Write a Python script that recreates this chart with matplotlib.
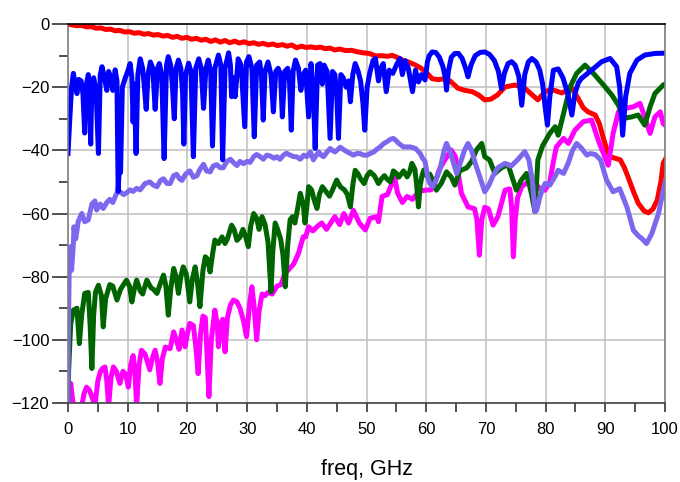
import matplotlib
matplotlib.use("Agg")
import matplotlib.pyplot as plt
from matplotlib.ticker import MultipleLocator

plt.rcParams['font.family'] = ['Liberation Sans', 'DejaVu Sans']

# S21 (red)
red_f = [0, 0.5, 1.5, 2.3, 3.1, 3.9, 4.7, 5.5, 6.3, 7.1, 7.9, 8.7, 9.5, 10.3, 11.1, 11.9,
         12.7, 13.5, 14.3, 15.1, 15.9, 16.7, 17.5, 18.3, 19.1, 19.9, 20.7, 21.5, 22.3, 23.1,
         23.9, 24.7, 25.5, 26.3, 27.1, 27.9, 28.7, 29.5, 30.3, 31.1, 31.9, 32.7, 33.5, 34.3,
         35.1, 35.9, 36.7, 37.5, 38.3, 39.1, 39.9, 40.7, 41.5, 42.3, 43.1, 43.9, 44.7, 45.5,
         46.5, 47.5, 48.5, 49.5, 50.5, 51.5, 52.5, 53.5, 54.3, 55.2, 56.0, 57.0, 58.0, 59.0,
         60.0, 61.0, 62.0, 63.0, 64.0, 65.3, 66.5, 67.7, 68.8, 69.8, 70.8, 71.9, 73.2, 74.9,
         76.5, 77.5, 78.7, 79.9, 81.0, 82.7, 84.4, 85.4, 86.3, 87.1, 88.3, 89.0, 89.6, 90.3,
         90.8, 92.5, 93.2, 93.8, 94.7, 95.5, 96.5, 97.2, 98.0, 98.7, 99.3, 99.7, 100]
red_db = [0, -0.2, -0.5, -0.4, -0.9, -0.8, -1.3, -1.2, -1.7, -1.6, -2.1, -2.0, -2.5, -2.4, -2.9, -2.7,
          -3.2, -3.0, -3.5, -3.3, -3.8, -3.6, -4.2, -3.9, -4.5, -4.2, -4.8, -4.5, -5.1, -4.8,
          -5.5, -5.0, -5.7, -5.2, -5.9, -5.4, -6.0, -5.6, -6.2, -5.9, -6.4, -6.1, -6.6, -6.3,
          -6.8, -6.5, -7.0, -6.6, -7.5, -7.0, -7.4, -7.2, -7.5, -7.3, -7.8, -7.6, -8.2, -7.9,
          -8.4, -8.3, -8.8, -9.1, -9.3, -10.1, -10.0, -10.2, -9.9, -10.6, -11.4, -12.0, -12.8, -13.8,
          -15.3, -17.3, -17.6, -17.3, -18.0, -20.3, -21.0, -21.4, -22.5, -24.0, -23.8, -22.5, -19.9, -19.3,
          -20.3, -22.0, -24.0, -21.4, -20.7, -21.8, -20.3, -23.4, -26.5, -27.8, -28.8, -31.5, -35.7, -40.0,
          -42.0, -43.0, -45.5, -48.4, -53.0, -56.7, -59.2, -59.8, -58.5, -55.7, -50.0, -44.0, -43.0]

# S11 (blue)
blue_f = [0.0, 0.3, 0.6, 0.9, 1.2, 1.5, 1.8, 2.2, 2.5, 2.8, 3.1, 3.4, 3.6, 3.8, 4.0, 4.3, 4.7, 5.1,
          5.4, 5.7, 6.1, 6.5, 6.8, 7.2, 7.5, 7.9, 8.2, 8.4, 8.6, 8.8, 9.1, 9.6, 10.0, 10.4, 10.7,
          10.9, 11.1, 11.4, 11.7, 12.1, 12.5, 12.8, 13.1, 13.4, 13.8, 14.2, 14.6, 15.0, 15.3, 15.7,
          16.1, 16.5, 16.8, 17.2, 17.5, 17.8, 18.1, 18.5, 18.9, 19.2, 19.4, 19.7, 20.2, 20.6, 21.0,
          21.4, 21.9, 22.3, 22.7, 23.1, 23.5, 23.9, 24.2, 24.6, 25.2, 25.6, 25.9, 26.3, 26.9, 27.2,
          27.4, 27.7, 28.0, 28.5, 29.0, 29.6, 29.9, 30.3, 30.8, 31.2, 31.6, 32.1, 32.4, 32.7, 33.0,
          33.5, 34.0, 34.4, 34.8, 35.2, 35.6, 35.9, 36.3, 36.8, 37.1, 37.4, 37.7, 38.1, 38.6, 39.0,
          39.4, 39.8, 40.3, 40.7, 41.1, 41.4, 41.8, 42.2, 42.6, 42.9, 43.4, 43.9, 44.3, 44.7, 45.0,
          45.3, 45.7, 46.1, 46.6, 47.0, 47.3, 47.7, 48.1, 48.6, 49.0, 49.4, 49.7, 50.1, 50.6, 51.1,
          51.5, 52.0, 52.4, 52.8, 53.3, 53.8, 54.4, 55.0, 55.6, 56.0, 56.5, 57.0, 57.7, 58.2, 58.7,
          59.2, 59.8, 60.2, 60.5, 61.0, 61.6, 62.2, 62.8, 63.2, 63.4, 63.7, 64.2, 64.8, 65.4, 66.0,
          66.6, 67.0, 67.5, 68.2, 69.0, 69.8, 70.6, 71.4, 72.1, 72.6, 73.1, 73.7, 74.3, 74.9, 75.5,
          76.0, 76.5, 77.1, 77.7, 78.4, 79.0, 79.5, 79.9, 80.3, 80.7, 81.3, 82.1, 82.9, 83.7, 84.4,
          84.9, 85.5, 86.0, 87.7, 89.4, 90.8, 91.9, 92.4, 92.9, 93.4, 94.1, 95.3, 96.6, 98.3, 100]
blue_db = [-41, -30, -20, -15.6, -19, -22, -17.5, -18, -22, -34.5, -19, -16, -20, -38, -19, -17, -21, -41,
           -16, -13.5, -17, -21, -15, -17, -21, -14.5, -18, -53, -45, -47, -20, -17, -15, -12.5, -17,
           -31, -19, -41, -16, -11, -14, -20, -27, -16, -12, -14, -27, -14, -12.5, -16,
           -42.6, -13, -10.3, -13, -20, -30, -14, -11.4, -14, -22, -38, -16, -12.4, -15, -42,
           -14, -11, -14, -26.7, -14, -11.4, -15, -38.6, -14, -9.8, -13, -43, -14, -9.1, -13,
           -23, -17, -23, -11, -13, -32.5, -12, -10.3, -14, -35.7, -13, -12, -16, -30.4, -15,
           -12, -16, -27.8, -15, -14, -16, -29.4, -15, -14, -18, -33.6, -15, -11.4, -14, -21,
           -16, -14.6, -29.4, -12.5, -22, -39.4, -13, -12.5, -19, -13, -15, -36.2, -15, -16, -22,
           -36.2, -16, -17, -20, -18, -24.6, -16, -12.5, -15, -18, -25, -33.6, -20, -15, -11.5,
           -10.9, -18, -14, -12.5, -21.4, -14.6, -15.6, -13, -10.9, -16, -11.6, -14, -21.4, -14.6, -18.3,
           -16, -17.7, -12, -10, -8.8, -9.0, -10.5, -13.5, -17, -20.9, -15, -10.5, -9.3, -9.3, -10.8,
           -14, -16.7, -13, -10, -9.0, -8.8, -9.6, -11.5, -15, -20.4, -15.5, -12.5, -11.9, -13, -16.5,
           -25.7, -16, -12, -10.9, -12, -14.5, -19, -26, -32, -23, -14.6, -14.2, -17, -22, -28.8,
           -22, -18.5, -17.2, -14.6, -11.9, -10.9, -13.5, -20, -35.2, -23, -15.6, -11.4, -9.8, -9.3, -9.2]

# purple
purple_f = [0.0, 0.05, 0.15, 0.2, 0.35, 0.45, 0.6, 0.8, 0.9, 1.0, 1.3, 1.7, 2.3, 2.8, 3.4, 4.0, 4.5,
            4.8, 5.4, 5.9, 6.5, 7.0, 7.5, 8.2, 8.7, 9.3, 9.8, 10.4, 10.9, 11.5, 12.1, 12.9, 13.7,
            14.3, 14.9, 15.5, 16.0, 16.6, 17.1, 17.7, 18.2, 18.7, 19.1, 19.7, 20.4, 21.0, 21.6, 22.1,
            22.7, 23.2, 23.8, 24.3, 24.9, 25.5, 26.0, 26.6, 27.2, 27.8, 28.3, 28.8, 29.4, 30.0, 30.5,
            31.1, 31.6, 32.2, 32.7, 33.3, 33.9, 34.5, 35.0, 35.5, 36.1, 36.6, 37.2, 37.8, 38.3, 38.9,
            39.5, 40.0, 40.6, 41.1, 41.6, 42.0, 42.4, 42.8, 43.4, 43.9, 44.3, 44.7, 45.2, 45.6, 46.2,
            46.7, 47.3, 47.8, 48.4, 48.9, 49.5, 50.1, 50.6, 51.2, 51.7, 52.3, 52.9, 53.4, 54.0, 54.5,
            55.0, 55.4, 56.2, 57.3, 58.2, 59.0, 59.4, 59.8, 60.2, 60.6, 61.1, 61.6, 62.3, 63.0, 63.4,
            64.0, 64.5, 65.1, 65.8, 66.4, 67.0, 67.6, 68.2, 69.0, 69.8, 70.5, 71.2, 72.0, 73.2, 74.2,
            75.3, 76.5, 77.2, 77.8, 78.2, 78.5, 79.0, 79.5, 79.9, 80.7, 81.5, 82.1, 83.0, 83.8, 84.5,
            85.2, 86.0, 86.9, 87.5, 88.3, 89.2, 90.2, 91.3, 92.4, 93.6, 94.7, 95.5, 96.1, 96.9, 97.8,
            98.9, 99.7, 100]
purple_db = [-120, -100, -85, -78, -72, -70.5, -78, -72, -69.5, -64.2, -68, -62.6, -60, -62.6, -62, -57, -56,
             -58.9, -57, -58.4, -56.5, -55.5, -56.5, -53.4, -53.1, -54, -53.5, -52.5, -53, -52, -52.5, -50.5, -50,
             -51, -51.5, -49.5, -49, -50.5, -50.5, -48, -47.6, -49, -49.5, -47.5, -46.5, -48.5, -48, -46,
             -44.4, -46.5, -46.8, -45, -44.5, -45.5, -45.5, -43.5, -42.8, -44, -44.8, -43.5, -44.2, -43.5, -43.8,
             -42, -41.3, -42, -42.8, -41.5, -41.8, -42.5, -42, -42.8, -41.5, -40.9, -41.5, -42, -42, -42.8,
             -41.5, -42, -40.5, -43, -41.5, -40.5, -41.5, -42, -40.5, -39.4, -40, -40.5, -39.7, -39, -39.8,
             -40.4, -41, -41.5, -41, -41, -41.5, -41.5, -41, -40.5, -39.7, -38.9, -37.8, -37.3, -36.5, -36.2,
             -37, -37.8, -38.9, -38.9, -39.4, -41, -42.5, -43.5, -48, -50.5, -51.5, -49.5, -46, -40, -37.8,
             -40.5, -43.5, -47.3, -43.5, -40, -37.8, -40, -44, -48.5, -53.1, -51, -48, -45.5, -44.1, -45,
             -43, -40.4, -43, -50, -59.4, -59, -55, -52, -50.5, -51, -48.5, -46.3, -47.3, -44, -40,
             -37.8, -39.3, -41.5, -41, -41.3, -43, -49.4, -53.1, -52.1, -57.9, -65.3, -67, -67.9, -69.5, -66.3,
             -60, -52.6, -50]

# dark green
green_f = [0.0, 0.1, 0.45, 0.9, 1.5, 1.9, 2.3, 2.8, 3.4, 3.7, 4.0, 4.3, 4.6, 5.1, 5.6, 5.9, 6.3, 7.0,
           7.5, 8.2, 8.8, 9.8, 10.3, 10.7, 11.1, 11.5, 12.1, 12.5, 13.2, 13.9, 14.3, 14.9, 15.5, 16.0,
           16.4, 16.8, 17.2, 17.7, 18.1, 18.5, 18.9, 19.3, 19.8, 20.4, 20.8, 21.3, 21.7, 22.1, 22.6,
           23.0, 23.4, 23.8, 24.2, 24.6, 25.2, 25.8, 26.3, 26.7, 27.4, 27.8, 28.3, 28.8, 29.3, 29.7,
           30.2, 30.6, 31.1, 31.6, 32.0, 32.5, 33.0, 33.5, 34.0, 34.3, 34.7, 35.1, 35.6, 36.0, 36.4,
           36.8, 37.2, 37.6, 38.0, 38.5, 38.9, 39.4, 39.7, 40.0, 40.3, 40.8, 41.2, 41.7, 42.1, 42.6,
           43.2, 43.8, 44.2, 45.0, 45.6, 46.3, 46.8, 47.3, 47.7, 48.1, 48.6, 49.0, 49.6, 50.1, 50.6,
           51.3, 52.0, 52.5, 53.0, 53.4, 54.0, 54.5, 55.0, 55.4, 56.0, 56.2, 56.8, 57.2, 57.6, 58.1,
           58.4, 58.7, 59.0, 59.3, 59.6, 60.2, 60.6, 61.2, 61.7, 62.5, 63.4, 64.2, 64.8, 65.6, 66.8,
           67.6, 68.4, 69.3, 69.8, 70.6, 71.5, 72.6, 73.7, 74.3, 75.1, 75.9, 76.8, 77.6, 78.2, 78.7,
           79.5, 80.7, 81.6, 82.1, 83.0, 84.1, 85.2, 86.6, 88.0, 89.7, 91.1, 92.2, 93.0, 94.4, 95.5,
           96.6, 97.5, 98.3, 99.7, 100]
green_db = [-120, -110, -95, -90.6, -90, -101.2, -92, -85.3, -85, -95, -109.1, -92, -85, -82.7, -86, -95.9, -87, -82.5,
            -83, -87.4, -84, -81.1, -83, -88, -84, -81.1, -84.5, -85.5, -81.1, -83.5, -84, -85.3, -82, -79.5,
            -83, -92.2, -84, -77.4, -80, -85.3, -80, -76.9, -79, -88, -81, -76.9, -82, -89.5, -78,
            -73.7, -74.5, -78.5, -73, -68.4, -69.5, -67.4, -69.5, -68, -63.7, -65, -68.5, -67.5, -65, -67,
            -70.5, -64, -60, -61.5, -65, -61, -63.5, -69, -84.8, -72, -63, -65, -68, -73, -83.2,
            -70, -62, -61, -63, -58, -53.6, -57, -63, -58, -51.5, -52.5, -55.5, -58.4, -54, -51.5,
            -53, -54.5, -53, -49.4, -51.5, -52.5, -54, -57.9, -51, -46.3, -47.5, -49, -50.5, -48, -46.8,
            -48, -50.5, -49, -48, -49, -50, -46.5, -47.3, -48.5, -47, -46.5, -48.4, -47, -44.1, -46,
            -51, -57.9, -51, -48, -46.2, -48.4, -47.5, -50, -52.6, -50.5, -46.8, -48.5, -51, -46.5, -45.5,
            -43.5, -39.9, -37.8, -42, -43, -47.3, -45.5, -44.5, -48, -52.6, -49.5, -47.3, -53.5, -59.4, -43,
            -38.5, -34.6, -32.5, -35.2, -28.3, -19.9, -15.6, -13, -15.6, -19.3, -22.5, -25.7, -29.9, -29.4, -28.8,
            -32, -26.2, -22, -19.3, -19]

# magenta
mag_f = [0.3, 0.45, 0.7, 1.0, 1.5, 2.3, 2.7, 3.1, 3.6, 4.0, 4.5, 5.0, 5.4, 5.8, 6.2, 6.5, 6.8, 7.2, 7.6,
         8.1, 8.7, 9.2, 9.7, 10.1, 10.5, 10.9, 11.2, 11.5, 11.9, 12.3, 12.9, 13.7, 14.1, 14.6, 15.0,
         15.4, 15.8, 16.3, 17.1, 17.7, 18.3, 18.6, 19.1, 19.6, 20.0, 20.4, 21.0, 21.4, 21.8, 22.2,
         22.6, 23.0, 23.3, 23.6, 24.0, 24.6, 25.0, 25.2, 25.6, 25.9, 26.3, 26.7, 27.2, 27.7, 28.3,
         28.8, 29.4, 29.9, 30.4, 30.8, 31.2, 31.6, 32.0, 32.5, 33.0, 33.5, 34.2, 35.0, 35.7, 36.3,
         36.9, 37.8, 38.6, 39.4, 39.8, 40.3, 41.0, 41.8, 42.5, 43.3, 44.7, 45.5, 46.2, 47.0, 47.8,
         48.8, 49.8, 50.6, 51.7, 52.0, 52.6, 53.5, 54.7, 55.2, 56.0, 56.8, 57.7, 58.7, 59.8, 60.8,
         61.5, 62.2, 63.1, 64.2, 64.9, 65.5, 65.9, 67.0, 68.1, 68.5, 68.9, 69.3, 69.8, 70.4, 71.2,
         72.0, 73.2, 74.0, 74.3, 74.6, 74.9, 75.3, 76.0, 77.1, 78.2, 79.3, 79.9, 80.7, 81.3, 81.8,
         83.0, 83.8, 84.9, 86.3, 87.7, 88.8, 89.9, 90.5, 91.3, 92.2, 93.3, 94.7, 95.8, 96.6, 97.5,
         98.3, 99.2, 99.7, 100]
mag_db = [-121, -113.8, -118, -122, -123, -121, -117, -115, -116, -118, -121, -113, -110.2, -109, -108.6, -113, -121, -112, -108.6,
          -110, -113.8, -110, -111, -115, -108, -105, -110, -121, -108, -103.3, -104.5, -109.5, -106, -103.3, -107,
          -113.8, -106, -102.3, -102.8, -97.5, -101, -103, -96.9, -102.2, -98, -94.8, -95.5, -102, -110.7, -98,
          -92.5, -93, -105, -118, -100, -90.6, -95, -102.2, -95, -93.5, -103.8, -93, -89, -87.4, -88,
          -90, -94, -99, -89, -83.2, -90, -100, -91, -85.5, -86, -85, -85.5, -83, -82.5, -79,
          -77.9, -76, -72.6, -67.4, -67.4, -64.2, -65.5, -64, -63, -65, -61, -63.5, -60, -63, -59,
          -63, -65.2, -61.5, -61, -62.6, -54.6, -54, -48.4, -53.5, -56.5, -54.6, -55.5, -53.1, -52.6, -52.5,
          -50, -46, -43.1, -39.9, -42, -49, -53.6, -57.9, -58.5, -62, -73.2, -62, -58, -58.5, -63.7,
          -61, -52.6, -52.2, -58, -73.7, -62, -55, -51.5, -49.9, -50.4, -52.6, -52.6, -50, -43.5, -38.9,
          -36.2, -37.8, -33.6, -30.9, -30.4, -36.7, -42, -44.7, -34.6, -27.8, -26.7, -26.2, -25.1, -29.4, -34.6,
          -29.4, -27.8, -31.5, -32]

x_ticks = [0, 10, 20, 30, 40, 50, 60, 70, 80, 90, 100]
y_ticks = [-120, -100, -80, -60, -40, -20, 0]

fig = plt.figure(figsize=(6.8, 4.82), dpi=100)
ax = fig.add_axes([0.1, 0.164, 0.878, 0.786])

lw = 3.6
ax.plot(red_f, red_db, color='#ff0000', lw=lw, solid_joinstyle='round')
ax.plot(mag_f, mag_db, color='#ff00ff', lw=lw, solid_joinstyle='round')
ax.plot(green_f, green_db, color='#006400', lw=lw, solid_joinstyle='round')
ax.plot(purple_f, purple_db, color='#7b68ee', lw=lw, solid_joinstyle='round')
ax.plot(blue_f, blue_db, color='#0000ff', lw=lw, solid_joinstyle='round')

ax.set_xlim(0, 100)
ax.set_ylim(-120, 0)
ax.set_xticks(x_ticks)
ax.set_yticks(y_ticks)
ax.xaxis.set_minor_locator(MultipleLocator(5))
ax.yaxis.set_minor_locator(MultipleLocator(10))
ax.grid(True, which='major', color='#c4c4c4', lw=1.2)
ax.set_axisbelow(True)

ax.tick_params(axis='y', which='major', direction='out', length=11.5, width=1.2,
               color='#333333', labelsize=12, pad=2)
ax.tick_params(axis='y', which='minor', direction='out', length=6.5, width=1.2, color='#333333')
ax.tick_params(axis='x', which='major', direction='out', length=6.5, width=1.2,
               color='#333333', labelsize=12, pad=7)
ax.tick_params(axis='x', which='minor', direction='out', length=6.5, width=1.2, color='#333333')

ax.spines['top'].set_color('black')
ax.spines['left'].set_color('#808080')
ax.spines['bottom'].set_color('#444444')
ax.spines['right'].set_color('#808080')
for s in ax.spines.values():
    s.set_linewidth(1.2)

ax.set_xlabel('freq, GHz', fontsize=15.5, labelpad=16)

fig.savefig('out.png', dpi=100)
